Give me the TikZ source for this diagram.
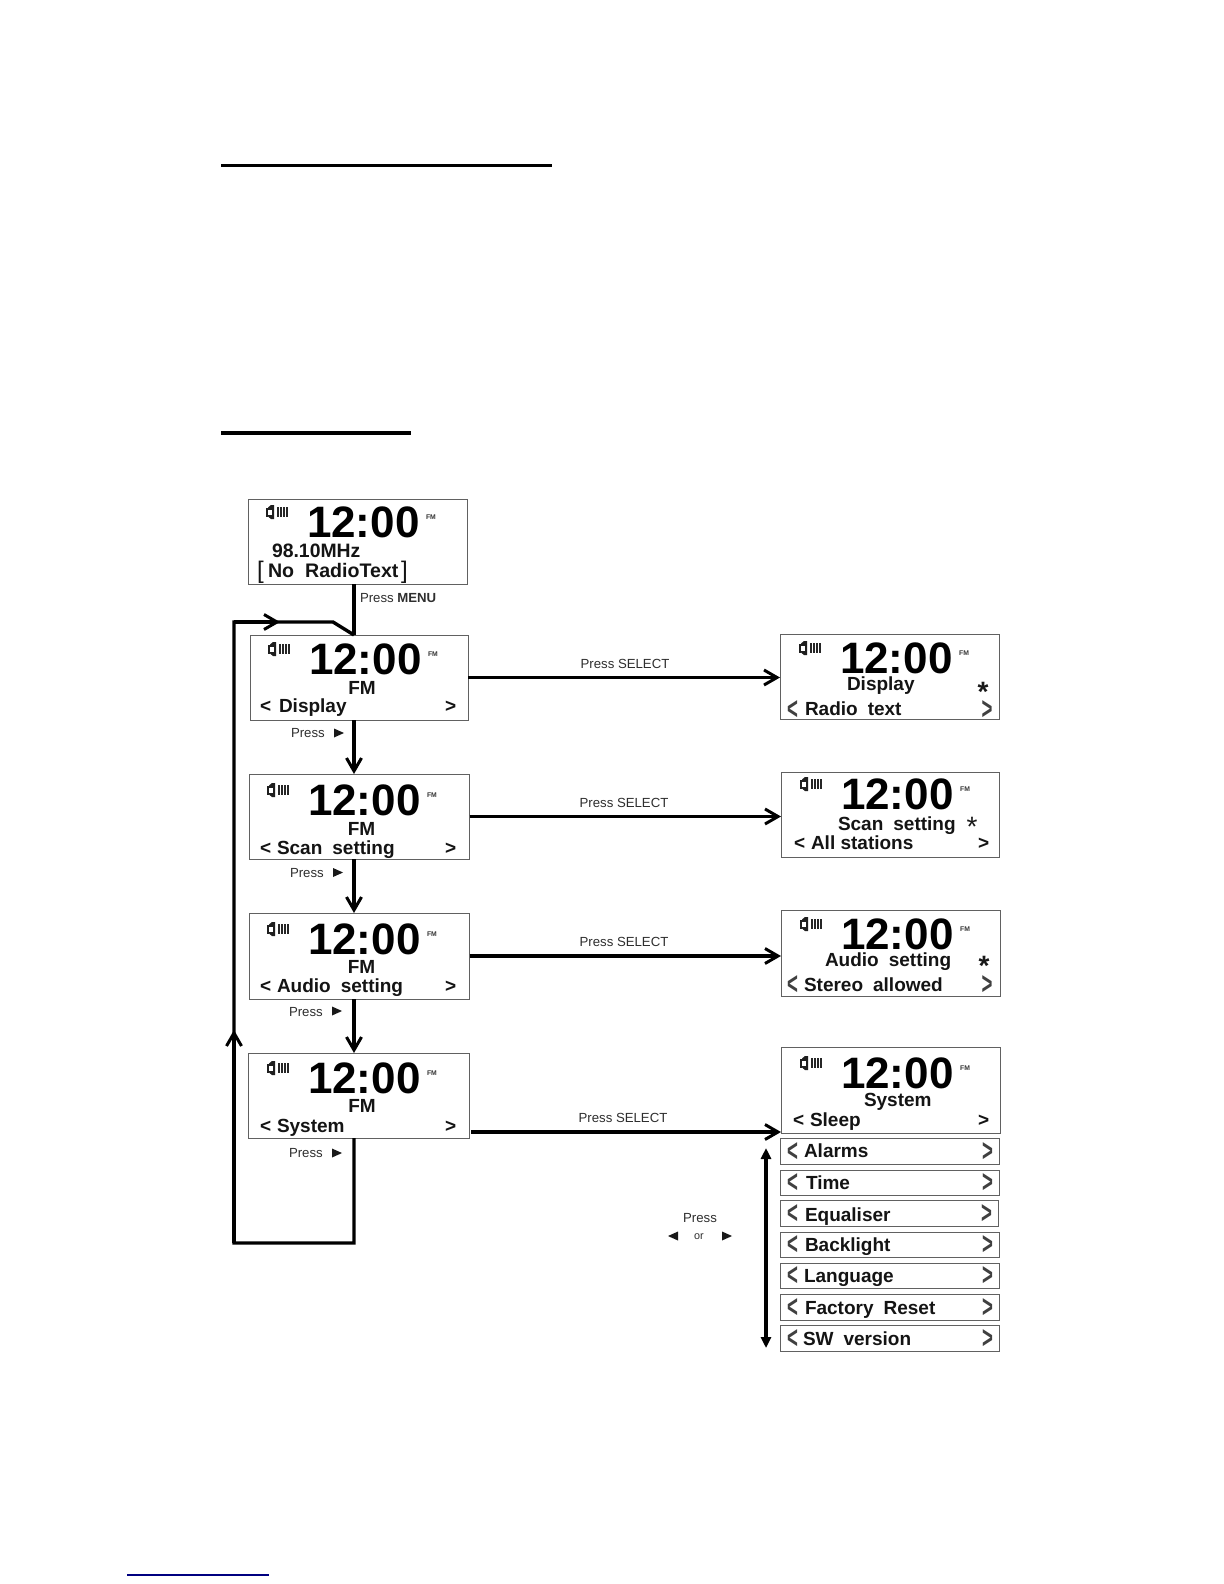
\documentclass[tikz,border=0pt]{standalone}
\usepackage{fontspec}
\usepackage{graphicx}
\setmainfont{Liberation Sans}
\usetikzlibrary{arrows.meta,calc}
\newcommand{\fs}[1]{\fontsize{#1bp}{#1bp}\selectfont}
\newcommand{\tchev}{\scalebox{.62}[1.05]{\fs{15}\bfseries<}}
\newcommand{\gchev}{\scalebox{.62}[1.05]{\fs{15}\bfseries>}}
\tikzset{
 x=0.5bp,y=-0.5bp,
 panel/.style={draw=black!62,line width=0.45bp,fill=white,rectangle,inner sep=0pt,outer sep=0pt},
 txt/.style={inner sep=0pt,outer sep=0pt,anchor=base west,font=\fs{9.5}\bfseries,text=black!92},
 ctxt/.style={txt,anchor=base},
 chev/.style={inner sep=0pt,outer sep=0pt,anchor=center,text=black!75},
 clock/.style={txt,font=\fs{22}\bfseries,text=black},
 tiny/.style={inner sep=0pt,outer sep=0pt,anchor=center,font=\fs{3.4}\bfseries,text=black!80},
 lbl/.style={txt,font=\fs{6.6},text=black!82},
 lblc/.style={lbl,anchor=base},
 flow/.style={line width=1.7bp,draw=black},
 arr/.style={flow,-{Straight Barb[length=6.5bp,width=7.5bp,line width=1.5bp]}},
 dbl/.style={line width=1.6bp,draw=black,{Triangle[length=5.5bp,width=5bp]}-{Triangle[length=5.5bp,width=5bp]}},
 rule/.style={line width=1.8bp,draw=black},
 star/.style={inner sep=0pt,outer sep=0pt,anchor=center,font=\fs{14},text=black!90},
}
\newcommand{\panel}[5]{\node[panel,minimum width=#4*0.5bp-#2*0.5bp,minimum height=#5*0.5bp-#3*0.5bp,anchor=north west] (#1) at (#2,#3) {};}
\newcommand{\spk}[2]{%
 \begin{scope}[shift={(#1,#2)}]
 \fill[black!88] (0,-4.5) rectangle (2,4.5);
 \fill[black!88] (2,-4.5) -- (5,-7) -- (8,-7) -- (8,7) -- (5,7) -- (2,4.5) -- cycle;
 \fill[white] (2,-2.5) rectangle (5.5,2.5);
 \foreach \k in {10.5,13.5,16.5,19.5}{\fill[black!85] (\k,-5) rectangle ++(2,10);}
 \end{scope}}
\newcommand{\lcd}[4]{%
 \node[clock] (#1clk) at (#2+60,#3+#4) {12:00};
 \node[tiny] (#1fm) at (#2+184,#3+#4-20) {FM};
 \spk{#2+19}{#3+#4-25}}
\newcommand{\tri}[3]{\fill[black!90] (#1,#2-4.5) -- (#1+#3,#2) -- (#1,#2+4.5) -- cycle;}
\begin{document}
\begin{tikzpicture}
\useasboundingbox (0,0) rectangle (1224,1584);
\fill[white] (0,0) rectangle (1224,1584);
\coordinate (r1a) at (221,165.3); \coordinate (r1b) at (552,165.3);
\coordinate (r2a) at (221,433); \coordinate (r2b) at (411,433);
\draw[rule] (r1a) -- (r1b);
\draw[rule] (r2a) -- (r2b);
\coordinate (f1) at (127,1575); \coordinate (f2) at (269,1575);
\draw[line width=0.6bp,draw={rgb,255:red,0;green,0;blue,128}] (f1) -- (f2);
\panel{b0}{248}{499}{467}{584}
\panel{b1}{250}{635}{468}{720}
\panel{b2}{249.5}{774}{469.5}{859}
\panel{b3}{249.5}{913}{469.5}{999}
\panel{b4}{248}{1053}{469}{1138}
\panel{r1}{780}{634}{999}{719}
\panel{r2}{781}{772}{999}{857}
\panel{r3}{781}{910}{1000}{996}
\panel{r4}{781}{1047}{1000}{1133}
\panel{l1}{780}{1138}{999}{1164}
\panel{l2}{780}{1170}{999}{1195}
\panel{l3}{780}{1200}{998}{1226}
\panel{l4}{780}{1232}{999}{1257}
\panel{l5}{780}{1263}{999}{1288}
\panel{l6}{780}{1294}{999}{1320}
\panel{l7}{780}{1325}{999}{1351}
\coordinate (spine) at (354,600);
\coordinate (lc1) at (354,1243);
\coordinate (lc2) at (234,1243);
\coordinate (lc3) at (234,622);
\coordinate (lc4) at (333,622);
\coordinate (uptip) at (234,1030);
\coordinate (righttip) at (280,622);
\draw[flow] (b0.south -| spine) -- (b1.north -| spine);
\draw[arr] (b1.south -| spine) -- (b2.north -| spine);
\draw[arr] (b2.south -| spine) -- (b3.north -| spine);
\draw[arr] (b3.south -| spine) -- (b4.north -| spine);
\draw[flow,line join=miter] (b4.south -| spine) -- (lc1) -- (lc2) -- (lc3) -- (lc4) -- (b1.north -| spine);
\draw[arr] (lc2) -- (uptip);
\draw[arr] (lc3) -- (righttip);
\draw[arr] (b1.east) -- (b1.east -| r1.west);
\draw[arr] (b2.east) -- (b2.east -| r2.west);
\draw[arr] (b3.east) -- (b3.east -| r3.west);
\coordinate (s4) at (471,1132);
\draw[arr] (s4) -- (s4 -| r4.west);
\coordinate (d1) at (766,1148); \coordinate (d2) at (766,1348);
\draw[dbl] (d1) -- (d2);
% b0
\lcd{a}{247}{499}{38}
\node[txt,font=\fs{9.7}\bfseries] (a1) at (272,557) {98.10MHz};
\node[txt,font=\fs{9.8}\bfseries] (a2) at (268,577) {No\hspace{5.5bp}RadioText};
\node[txt,font=\fs{12}] (a3) at (257,578) {[};
\node[txt,font=\fs{12}] (a4) at (401,578) {]};
% b1
\lcd{c}{249}{635}{39}
\node[ctxt] (c1) at (362,694) {FM};
\node[txt] (c2) at (260,712) {<};
\node[txt] (c3) at (279,712) {Display};
\node[txt] (c4) at (445,712) {>};
% b2
\lcd{e}{248}{774}{41}
\node[ctxt] (e1) at (361.5,835) {FM};
\node[txt] (e2) at (260,854) {<};
\node[txt] (e3) at (277,854) {Scan\hspace{5bp}setting};
\node[txt] (e4) at (445,854) {>};
% b3
\lcd{g}{248}{913}{41}
\node[ctxt] (g1) at (361.5,973.5) {FM};
\node[txt] (g2) at (260,992.5) {<};
\node[txt] (g3) at (277,992.5) {Audio\hspace{5bp}setting};
\node[txt] (g4) at (445,992.5) {>};
% b4
\lcd{h}{248}{1053}{40}
\node[ctxt] (h1) at (362,1112) {FM};
\node[txt] (h2) at (260,1132) {<};
\node[txt] (h3) at (277,1132) {System};
\node[txt] (h4) at (445,1132) {>};
% r1
\lcd{i}{780}{634}{39}
\node[txt] (i1) at (847,690) {Display};
\node[star] (i2) at (983,692) {\textbf{*}};
\node[chev] (i3) at (792.5,710) {\tchev};
\node[txt] (i4) at (805,715) {Radio\hspace{5bp}text};
\node[chev] (i5) at (987,710) {\gchev};
% r2
\lcd{j}{781}{772}{37}
\node[txt] (j1) at (838,830) {Scan\hspace{5bp}setting};
\node[star] (j2) at (972,827) {*};
\node[txt] (j3) at (794,849) {<};
\node[txt] (j4) at (811,849) {All stations};
\node[txt] (j5) at (978,849) {>};
% r3
\lcd{k}{781}{910}{39}
\node[txt] (k1) at (825,966.5) {Audio\hspace{5bp}setting};
\node[star] (k2) at (984,966) {\textbf{*}};
\node[chev] (k3) at (792.5,985) {\tchev};
\node[txt] (k4) at (804,991) {Stereo\hspace{5bp}allowed};
\node[chev] (k5) at (987,985) {\gchev};
% r4
\lcd{m}{781}{1047}{41}
\node[txt] (m1) at (864,1106) {System};
\node[txt] (m2) at (793,1126) {<};
\node[txt] (m3) at (810,1126) {Sleep};
\node[txt] (m4) at (978,1126) {>};
% list
\foreach \n/\tx/\lx/\by in {l1/Alarms/804/1157,l2/Time/806/1189,l3/Equaliser/805/1221,l4/Backlight/805/1251,l5/Language/804/1282,l6/Factory\hspace{5bp}Reset/805/1314,l7/SW\hspace{5bp}version/803/1345}{
 \node[chev] (\n L) at ($(\n.west)+(12.5,1)$) {\tchev};
 \node[chev] (\n R) at ($(\n.east)+(-11.5,1)$) {\gchev};
 \node[txt] (\n T) at (\lx,\by) {\tx};
}
% press labels
\node[lbl] (p0) at (360,602) {Press \textbf{MENU}};
\node[lbl] (p1) at (291,737) {Press};
\tri{334}{733}{10}
\node[lbl] (p2) at (290,877) {Press};
\tri{333}{872.5}{10}
\node[lbl] (p3) at (289,1016) {Press};
\tri{332}{1011}{10}
\node[lbl] (p4) at (289,1157) {Press};
\tri{332}{1153}{10}
\node[lblc] (s1) at (625,668) {Press SELECT};
\node[lblc] (s2) at (624,807.5) {Press SELECT};
\node[lblc] (s3) at (624,946.5) {Press SELECT};
\node[lblc] (s4t) at (623,1122.5) {Press SELECT};
\node[lblc] (q1) at (700,1222) {Press};
\node[lblc,font=\fs{5.4}] (q2) at (699,1239.5) {or};
\fill[black!90] (678,1231.5) -- (668,1236) -- (678,1240.5) -- cycle;
\tri{722}{1236}{10}
\end{tikzpicture}
\end{document}
